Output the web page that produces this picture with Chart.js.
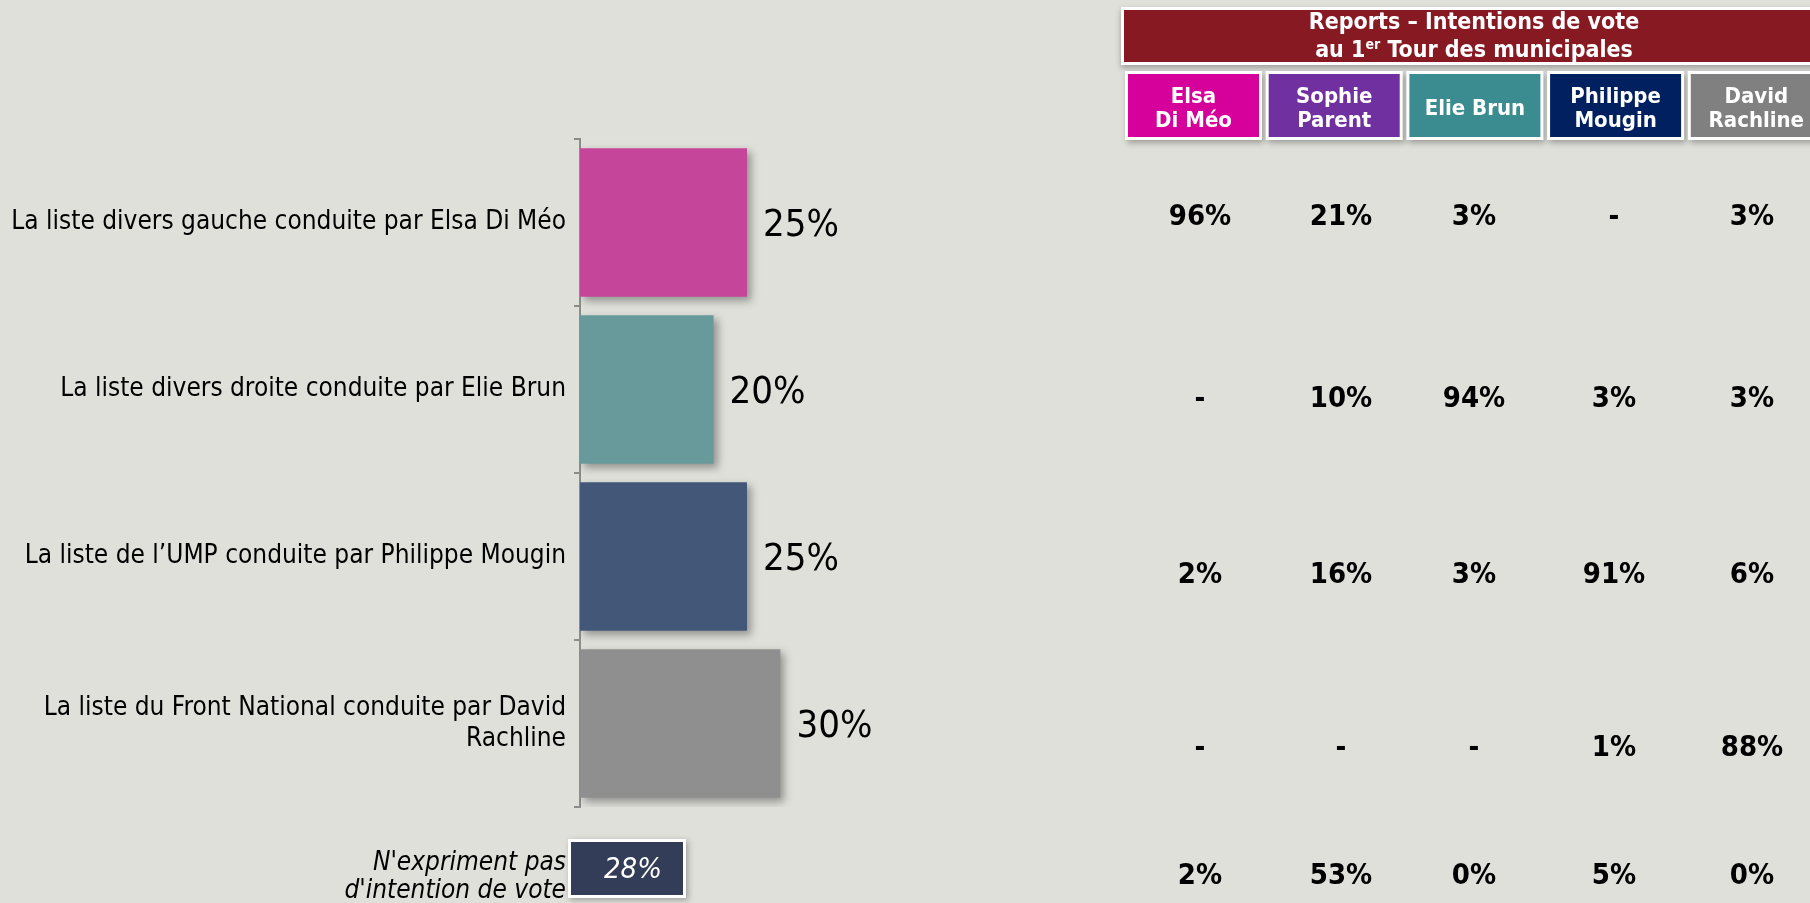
<!DOCTYPE html>
<html>
<head>
<meta charset="utf-8">
<script src="https://cdn.jsdelivr.net/npm/chart.js@4.4.1/dist/chart.umd.min.js"></script>
<style>
    html, body { margin: 0; padding: 0; background: #e0e0db; }
    #wrap { width: 1810px; height: 903px; }
</style>
</head>
<body>
<div id="wrap"><canvas id="voteChart" width="1810" height="903"></canvas></div>
<script>
// ============================
// Data
// ============================
const categories = [
    "La liste divers gauche conduite par Elsa Di Méo",
    "La liste divers droite conduite par Elie Brun",
    "La liste de l’UMP conduite par Philippe Mougin",
    ["La liste du Front National conduite par David", "Rachline"]
];
const intentions = [25, 20, 25, 30];
const barColors = ["#c4459a", "#699a9b", "#435879", "#8f8f8f"];

const noIntentionLabel = ["N'expriment pas", "d'intention de vote"];
const noIntention = 28;

const tableTitle = "Reports – Intentions de vote";
const tableSubtitle = ["au 1", "er", " Tour des municipales"];
const candidates = [["Elsa", "Di Méo"], ["Sophie", "Parent"], ["Elie Brun"], ["Philippe", "Mougin"], ["David", "Rachline"]];
const candidateColors = ["#d6009a", "#7030a0", "#3b8c90", "#002060", "#808080"];

// rows: the four lists, then "n'expriment pas"; null = "-"
const reports = [
    [96, 21, 3, null, 3],
    [null, 10, 94, 3, 3],
    [2, 16, 3, 91, 6],
    [null, null, null, 1, 88],
    [2, 53, 0, 5, 0]
];

// ============================
// Layout
// ============================
const FONT = "'DejaVu Sans Condensed', 'DejaVu Sans', sans-serif";
const AXIS_X = 580;
const colX = [1200, 1341, 1474, 1614, 1752];
const rowY = [217, 399, 575, 748, 876];

function pct(v) {
    return v === null ? "-" : v + "%";
}

// ============================
// Plugins
// ============================
const barShadow = {
    id: "barShadow",
    beforeDatasetDraw(chart) {
        const ctx = chart.ctx;
        ctx.save();
        ctx.shadowColor = "rgba(0,0,0,0.35)";
        ctx.shadowBlur = 8;
        ctx.shadowOffsetX = 4;
        ctx.shadowOffsetY = 4;
    },
    afterDatasetDraw(chart) {
        chart.ctx.restore();
    }
};

const barLabels = {
    id: "barLabels",
    afterDatasetsDraw(chart) {
        const ctx = chart.ctx;
        const meta = chart.getDatasetMeta(0);
        ctx.save();
        ctx.fillStyle = "#000";
        ctx.font = "38px " + FONT;
        ctx.textAlign = "left";
        ctx.textBaseline = "middle";
        meta.data.forEach((bar, i) => {
            ctx.fillText(intentions[i] + "%", bar.x + 16, bar.y + 4);
        });
        ctx.restore();
    }
};

const sideTable = {
    id: "sideTable",
    afterDraw(chart) {
        const ctx = chart.ctx;
        ctx.save();

        // "N'expriment pas" box
        ctx.fillStyle = "#000";
        ctx.font = "italic 26px " + FONT;
        ctx.textAlign = "right";
        ctx.textBaseline = "middle";
        ctx.fillText(noIntentionLabel[0], 566, 863);
        ctx.fillText(noIntentionLabel[1], 566, 891);

        ctx.save();
        ctx.shadowColor = "rgba(0,0,0,0.3)";
        ctx.shadowBlur = 6;
        ctx.shadowOffsetX = 2;
        ctx.shadowOffsetY = 2;
        ctx.fillStyle = "#ffffff";
        ctx.fillRect(568, 839, 118, 59);
        ctx.restore();
        ctx.fillStyle = "#333d57";
        ctx.fillRect(571, 842, 112, 53);
        ctx.fillStyle = "#fff";
        ctx.font = "italic 29px " + FONT;
        ctx.textAlign = "center";
        ctx.fillText(noIntention + "%", 633, 870);

        // header
        ctx.save();
        ctx.shadowColor = "rgba(0,0,0,0.3)";
        ctx.shadowBlur = 6;
        ctx.shadowOffsetY = 3;
        ctx.fillStyle = "#ffffff";
        ctx.fillRect(1121, 7, 700, 58);
        ctx.restore();
        ctx.fillStyle = "#861922";
        ctx.fillRect(1124, 10, 700, 52);

        ctx.fillStyle = "#fff";
        ctx.font = "bold 23px " + FONT;
        ctx.textAlign = "center";
        ctx.fillText(tableTitle, 1474, 23);
        const w0 = ctx.measureText(tableSubtitle[0]).width;
        const w2 = ctx.measureText(tableSubtitle[2]).width;
        ctx.font = "bold 14px " + FONT;
        const w1 = ctx.measureText(tableSubtitle[1]).width;
        let x = 1474 - (w0 + w1 + w2) / 2;
        ctx.textAlign = "left";
        ctx.font = "bold 23px " + FONT;
        ctx.fillText(tableSubtitle[0], x, 51);
        ctx.font = "bold 14px " + FONT;
        ctx.fillText(tableSubtitle[1], x + w0, 45);
        ctx.font = "bold 23px " + FONT;
        ctx.fillText(tableSubtitle[2], x + w0 + w1, 51);

        // candidate boxes
        candidates.forEach((name, i) => {
            const left = 1125 + i * 140.7;
            ctx.save();
            ctx.shadowColor = "rgba(0,0,0,0.3)";
            ctx.shadowBlur = 6;
            ctx.shadowOffsetX = 2;
            ctx.shadowOffsetY = 3;
            ctx.fillStyle = "#ffffff";
            ctx.fillRect(left, 71, 137, 69);
            ctx.restore();
            ctx.fillStyle = candidateColors[i];
            ctx.fillRect(left + 3, 74, 131, 63);

            ctx.fillStyle = "#fff";
            ctx.font = "bold 22px " + FONT;
            ctx.textAlign = "center";
            const cx = left + 68.5;
            if (name.length === 1) {
                ctx.fillText(name[0], cx, 109);
            } else {
                ctx.fillText(name[0], cx, 97);
                ctx.fillText(name[1], cx, 121);
            }
        });

        // report values
        ctx.fillStyle = "#000";
        ctx.font = "bold 29px " + FONT;
        ctx.textAlign = "center";
        reports.forEach((row, r) => {
            row.forEach((v, c) => {
                ctx.fillText(pct(v), colX[c], rowY[r]);
            });
        });

        ctx.restore();
    }
};

// ============================
// Chart
// ============================
document.addEventListener("DOMContentLoaded", function () {

    if (typeof Chart === "undefined") return;

    new Chart(document.getElementById("voteChart"), {
        type: "bar",
        data: {
            labels: categories,
            datasets: [{
                data: intentions,
                backgroundColor: barColors,
                borderWidth: 0,
                categoryPercentage: 1,
                barPercentage: 0.89
            }]
        },
        options: {
            indexAxis: "y",
            responsive: false,
            animation: false,
            layout: {
                padding: { top: 139, bottom: 96, left: 0, right: 562 }
            },
            plugins: {
                legend: { display: false },
                tooltip: { enabled: false }
            },
            scales: {
                x: {
                    display: false,
                    min: 0,
                    max: 100
                },
                y: {
                    afterFit(scale) {
                        scale.width = AXIS_X;
                    },
                    border: { display: true, color: "#8c8c8c", width: 2 },
                    grid: {
                        display: true,
                        drawOnChartArea: false,
                        drawTicks: true,
                        tickLength: 6,
                        color: "#8c8c8c",
                        lineWidth: 2,
                        offset: true
                    },
                    ticks: {
                        color: "#000",
                        padding: 8,
                        font: { family: FONT, size: 26, lineHeight: 1.2 }
                    }
                }
            }
        },
        plugins: [barShadow, barLabels, sideTable]
    });
});
</script>
</body>
</html>
